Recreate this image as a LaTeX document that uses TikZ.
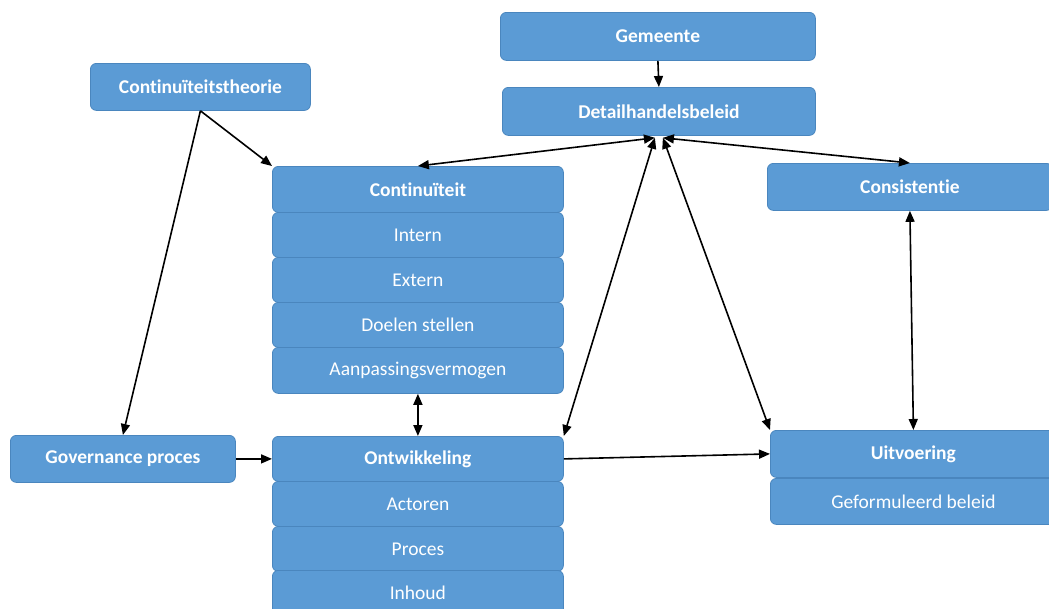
\documentclass[tikz,border=0pt]{standalone}
\usepackage{fontspec}
\setmainfont[Ligatures={NoCommon}]{Carlito}
\usetikzlibrary{arrows.meta,calc}
\definecolor{boxblue}{HTML}{5B9BD5}
\definecolor{boxedge}{HTML}{4A86BE}
\tikzset{
  box/.style={draw=boxedge, line width=0.8pt, fill=boxblue, rounded corners=6pt,
    text=white, font=\fontsize{19.5}{21}\selectfont, inner sep=0pt, anchor=north west},
  head/.style={box, font=\fontsize{19.5}{21}\selectfont\bfseries},
  link/.style={line width=1.6pt, -{Triangle[length=11pt,width=9pt]}},
  both/.style={line width=1.6pt, {Triangle[length=11pt,width=9pt]}-{Triangle[length=11pt,width=9pt]}},
}
\begin{document}
\begin{tikzpicture}[x=1pt,y=-1pt]
\useasboundingbox (0,0) rectangle (1049,608);
\clip (0,0) rectangle (1049,608);

% top chain and side boxes
\node[head, minimum width=315pt, minimum height=48pt] (gem) at (500,12) {Gemeente};
\node[head, minimum width=313pt, minimum height=48pt] (dhb) at (502,87) {Detailhandelsbeleid};
\node[head, minimum width=220pt, minimum height=47pt] (theo) at (90,63) {Continuïteitstheorie};
\node[head, minimum width=225pt, minimum height=47pt] (gov) at (10,435) {Governance proces};

% Continuïteit stack
\node[head, minimum width=291pt, minimum height=46pt] (cont) at (272,166) {Continuïteit};
\node[box, minimum width=291pt, minimum height=45pt] (intern) at (272,212) {Intern};
\node[box, minimum width=291pt, minimum height=45pt] (extern) at (272,257) {Extern};
\node[box, minimum width=291pt, minimum height=45pt] (doel) at (272,302) {Doelen stellen};
\node[box, minimum width=291pt, minimum height=46pt] (aanp) at (272,347) {Aanpassingsvermogen};

% Ontwikkeling stack
\node[head, minimum width=291pt, minimum height=45pt] (ontw) at (272,436) {Ontwikkeling};
\node[box, minimum width=291pt, minimum height=45pt] (act) at (272,481) {Actoren};
\node[box, minimum width=291pt, minimum height=45pt] (proc) at (272,526) {Proces};
\node[box, minimum width=291pt, minimum height=45pt] (inh) at (272,570) {Inhoud};

% right column
\node[head, minimum width=285pt, minimum height=47pt] (cons) at (767,163) {Consistentie};
\node[head, minimum width=286pt, minimum height=47pt] (uitv) at (770,430) {Uitvoering};
\node[box, minimum width=286pt, minimum height=46pt] (geform) at (770,478) {Geformuleerd beleid};

% meeting points under Detailhandelsbeleid
\coordinate (dhbL) at ($(dhb.south)+(-4,2)$);
\coordinate (dhbR) at ($(dhb.south)+(4,2)$);

% connectors
\draw[link] (gem.south) -- (dhb.north);
\draw[link] (theo.south) -- (cont.north west);
\draw[link] (theo.south) -- (gov.north);
\draw[both] (dhbL) -- (cont.north);
\draw[both] (dhbR) -- (cons.north);
\draw[both] (dhbL) -- (ontw.north east);
\draw[both] (dhbR) -- (uitv.north west);
\draw[both] (cons.south) -- (uitv.north);
\draw[both] (aanp.south) -- (ontw.north);
\draw[link] (gov.east) -- (ontw.west);
\draw[link] (ontw.east) -- (uitv.west);
\end{tikzpicture}
\end{document}
